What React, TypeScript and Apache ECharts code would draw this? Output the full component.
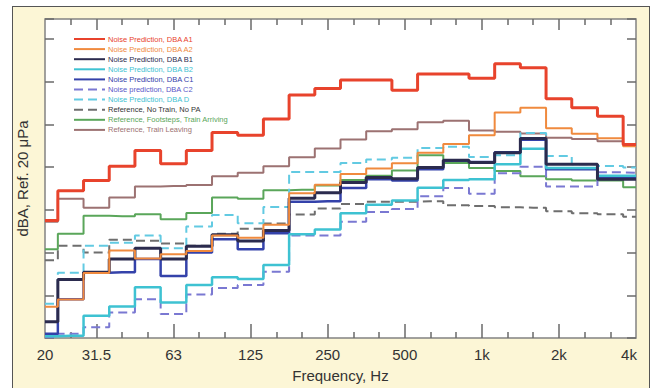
import React, { useEffect, useRef } from "react";
import * as echarts from "echarts";

// Third-octave band centres (index = position on the x axis)
const bands = ["20", "25", "31.5", "40", "50", "63", "80", "100", "125", "160", "200", "250", "315", "400", "500", "630", "800", "1k", "1.25k", "1.6k", "2k", "2.5k", "3.15k", "4k"];
const tickIdx = [0, 2, 5, 8, 11, 14, 17, 20, 23];
const tickText = ["20", "31.5", "63", "125", "250", "500", "1k", "2k", "4k"];
const majorTicks = [2, 5, 8, 11, 14, 17, 20];
const minorTicks = [1, 3, 4, 6, 7, 9, 10, 12, 13, 15, 16, 18, 19, 21, 22];

// dBA values per band
const a1 = [47.5, 54.5, 56.9, 60.2, 63.9, 60.8, 63.9, 68.1, 67.5, 71.3, 76.9, 78.4, 80.4, 80.4, 78.0, 81.8, 81.8, 80.8, 84.2, 83.3, 76.0, 73.9, 71.9, 65.3];
const a2 = [27.3, 29.0, 35.2, 40.5, 38.6, 39.6, 40.4, 44.0, 43.5, 46.5, 53.9, 55.9, 58.4, 59.7, 60.9, 63.4, 65.4, 67.5, 72.8, 73.9, 69.1, 67.8, 66.8, 64.9];
const b1 = [23.8, 33.7, 35.4, 38.5, 41.0, 38.5, 41.5, 44.2, 42.7, 45.2, 52.7, 54.0, 56.4, 57.6, 57.3, 59.9, 61.6, 61.1, 63.4, 66.7, 60.7, 60.7, 57.2, 57.2];
const b2 = [20.4, 20.5, 25.2, 27.4, 31.9, 28.3, 32.4, 34.2, 33.8, 37.1, 44.3, 45.4, 49.2, 51.2, 52.2, 55.2, 57.0, 57.2, 60.7, 64.3, 59.8, 59.8, 58.0, 58.0];
const c1 = [21.0, 29.1, 35.3, 35.4, 38.5, 34.5, 40.0, 43.1, 40.8, 44.5, 51.9, 52.0, 55.1, 57.2, 56.9, 59.5, 61.5, 61.2, 63.5, 66.4, 59.5, 59.5, 57.6, 57.6];
const c2 = [20.2, 21.0, 22.5, 26.0, 29.1, 25.6, 30.2, 31.7, 32.4, 35.5, 44.0, 44.0, 47.2, 49.5, 50.2, 53.2, 55.1, 53.8, 58.6, 60.1, 55.5, 55.5, 58.8, 58.7];
const dd = [28.0, 35.3, 41.6, 42.3, 44.0, 41.0, 46.1, 48.8, 46.9, 50.7, 58.9, 58.9, 61.0, 61.8, 62.2, 64.5, 64.8, 62.4, 62.8, 68.0, 62.6, 60.7, 60.3, 59.9];
const refNoTrain = [38.2, 41.6, 40.0, 43.0, 42.8, 42.1, 41.6, 44.4, 45.6, 46.8, 48.9, 50.3, 51.4, 51.9, 51.9, 52.0, 51.1, 50.9, 50.6, 50.5, 49.7, 49.2, 49.0, 48.4];
const refArriving = [40.8, 44.4, 48.6, 48.5, 49.0, 47.8, 49.3, 52.9, 52.6, 54.6, 54.7, 55.7, 57.0, 58.0, 59.2, 62.8, 61.0, 59.8, 59.1, 57.9, 57.2, 56.9, 56.9, 55.3];
const refLeaving = [47.2, 52.6, 50.5, 52.9, 55.5, 55.6, 55.8, 57.9, 58.7, 60.2, 62.3, 64.4, 66.5, 68.4, 68.9, 70.5, 70.9, 68.6, 68.3, 67.9, 66.9, 66.6, 66.1, 65.1];

const names = [
  "Noise Prediction, DBA A1",
  "Noise Prediction, DBA A2",
  "Noise Prediction, DBA B1",
  "Noise Prediction, DBA B2",
  "Noise Prediction, DBA C1",
  "Noise prediction, DBA C2",
  "Noise Prediction, DBA D",
  "Reference, No Train, No PA",
  "Reference, Footsteps, Train Arriving",
  "Reference, Train Leaving",
];
const values = [a1, a2, b1, b2, c1, c2, dd, refNoTrain, refArriving, refLeaving];

// styles (kept apart from data)
const colors = ["#e8432c", "#f08a3e", "#2b2b4e", "#3ec2d2", "#3442aa", "#7a78d2", "#62cae2", "#6e6e6e", "#5aa65a", "#9c7272"];
const textColors = ["#e8432c", "#f08a3e", "#2b2b4e", "#3ec2d2", "#3442aa", "#5a58c8", "#3ec2d2", "#333333", "#5aa65a", "#9c7272"];
const widths = [3, 2, 3, 2.5, 2.5, 2, 2, 2, 2, 2];
const dashes: (number[] | null)[] = [null, null, null, null, null, [9, 5], [9, 5], [9, 5], null, null];
const drawOrder = [7, 8, 9, 6, 5, 4, 3, 2, 1, 0];

const FONT = "Liberation Sans";

export default function App() {
  const ref = useRef<HTMLDivElement>(null);
  useEffect(() => {
    if (!ref.current) return;
    const chart = echarts.init(ref.current, null, { renderer: "svg" });
    const tickStyle = { color: "#6a6a6a", width: 1.5 };
    const xBase = {
      type: "value",
      min: 0,
      max: bands.length - 1,
      splitLine: { show: false },
      axisLine: { show: false, onZero: false },
    };
    const yBase = {
      type: "value",
      min: 20,
      max: 94.7,
      interval: 10,
      splitLine: { show: false },
      axisLine: { show: false, onZero: false },
      axisLabel: { show: false },
      axisTick: { show: true, inside: true, length: 9, lineStyle: tickStyle },
    };
    const option = {
      animation: false,
      backgroundColor: "transparent",
      grid: {
        left: 45,
        right: 19,
        top: 19,
        bottom: 44.5,
        show: true,
        backgroundColor: "#ffffff",
        borderColor: "#828282",
        borderWidth: 1.5,
        containLabel: false,
      },
      legend: {
        orient: "vertical",
        left: 73,
        top: 35,
        itemWidth: 31,
        itemHeight: 10,
        itemGap: 2.1,
        padding: 0,
        itemStyle: { opacity: 0, borderWidth: 0 },
        textStyle: { fontSize: 7.5, fontFamily: FONT, padding: [0, 0, 0, -2] },
        data: names.map((n, i) => ({ name: n, textStyle: { color: textColors[i] } })),
      },
      xAxis: [
        {
          ...xBase,
          position: "bottom",
          axisTick: { show: true, inside: true, length: 6, customValues: minorTicks, lineStyle: tickStyle },
          axisLabel: {
            show: true,
            customValues: tickIdx,
            margin: 9,
            fontSize: 15,
            fontFamily: FONT,
            color: "#333",
            formatter: (v: number) => {
              const k = tickIdx.indexOf(Math.round(v));
              const t = k >= 0 ? tickText[k] : "";
              return Math.round(v) === bands.length - 1 ? "{e|" + t + "}" : t;
            },
            rich: { e: { fontSize: 15, fontFamily: FONT, color: "#333", padding: [0, 14, 0, 0] } },
          },
          name: "Frequency, Hz",
          nameLocation: "middle",
          nameGap: 30,
          nameTextStyle: { fontSize: 15, fontFamily: FONT, color: "#333" },
        },
        {
          ...xBase,
          position: "bottom",
          axisTick: { show: true, inside: true, length: 14, customValues: majorTicks, lineStyle: tickStyle },
          axisLabel: { show: false },
        },
        {
          ...xBase,
          position: "top",
          axisTick: { show: true, inside: true, length: 6, customValues: minorTicks, lineStyle: tickStyle },
          axisLabel: { show: false },
        },
        {
          ...xBase,
          position: "top",
          axisTick: { show: true, inside: true, length: 11, customValues: majorTicks, lineStyle: tickStyle },
          axisLabel: { show: false },
        },
      ],
      yAxis: [
        {
          ...yBase,
          position: "left",
          name: "dBA, Ref. 20 μPa",
          nameLocation: "middle",
          nameRotate: 90,
          nameGap: 15,
          nameTextStyle: { fontSize: 15, fontFamily: FONT, color: "#333" },
        },
        { ...yBase, position: "right" },
      ],
      series: drawOrder.map((i) => ({
        name: names[i],
        type: "line",
        step: "middle",
        symbol: "none",
        xAxisIndex: 0,
        yAxisIndex: 0,
        data: values[i].map((v, k) => [k, v]),
        lineStyle: {
          color: colors[i],
          width: widths[i],
          type: dashes[i] ? dashes[i] : "solid",
        },
        itemStyle: { color: colors[i] },
      })),
    };
    chart.setOption(option as any);
    return () => chart.dispose();
  }, []);

  return (
    <div style={{ position: "fixed", left: 0, top: 0, width: 655, height: 388, background: "#ffffff", overflow: "hidden" }}>
      <div
        style={{
          position: "absolute",
          left: 12,
          top: 6,
          width: 636,
          height: 400,
          background: "#fcf6d6",
          borderTop: "1.5px solid #555",
          borderLeft: "1.5px solid #555",
          borderRight: "1.5px solid #555",
        }}
      />
      <div ref={ref} style={{ position: "absolute", left: 0, top: 0, width: 655, height: 388 }} />
    </div>
  );
}
